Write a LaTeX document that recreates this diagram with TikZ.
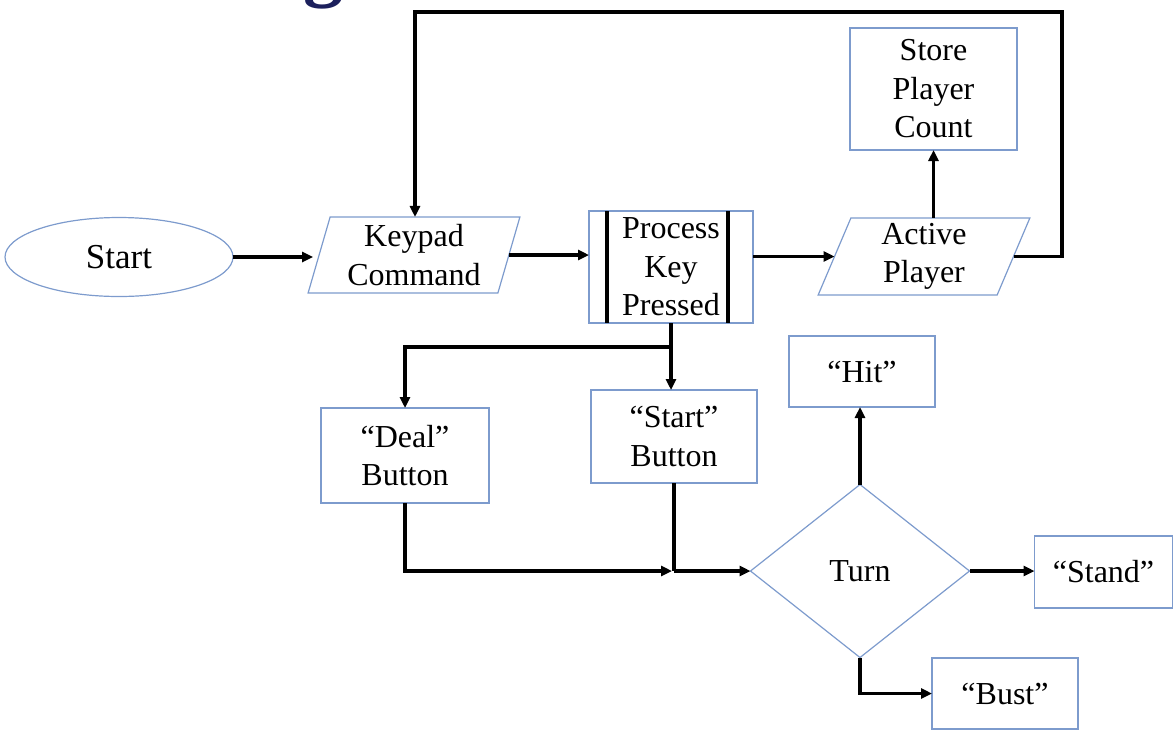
\documentclass[tikz,border=0pt]{standalone}
\usepackage{fontspec}
\setmainfont{Liberation Serif}
\usetikzlibrary{arrows.meta,shapes.geometric}
\definecolor{boxblue}{RGB}{125,155,205}
\definecolor{titlenavy}{RGB}{28,32,92}
\begin{document}
\begin{tikzpicture}[x=1pt,y=-1pt,
  every node/.style={font=\fontsize{32}{38.5}\selectfont, align=center, inner sep=0pt, outer sep=0pt},
  box/.style={draw=boxblue, line width=1.2pt, rectangle},
  para/.style={draw=boxblue, line width=1.2pt, trapezium, trapezium left angle=74,
    trapezium right angle=106, trapezium stretches=true},
  conn/.style={line width=3.2pt, black},
  arr/.style={conn, -{Triangle[length=11pt,width=10pt]}},
]
\useasboundingbox (0,0) rectangle (1174,732);
\clip (0,0) rectangle (1174,732);

% fragment of the cut-off title
\node[font=\fontsize{80}{80}\selectfont\bfseries, text=titlenavy, anchor=base] (title) at (323,-9) {g};

% nodes
\node[draw=boxblue, line width=1.2pt, ellipse, minimum width=228pt, minimum height=79pt,
  font=\fontsize{35}{38}\selectfont] (start) at (119,257) {Start};
\node[para, minimum width=212pt, minimum height=76pt] (key) at (414,255) {Keypad\\Command};
\node[box, minimum width=164pt, minimum height=112pt] (proc) at (671,267) {Process\\Key\\Pressed};
\node[para, minimum width=212pt, minimum height=77pt] (act) at (924,256.5) {Active\\Player};
\node[box, minimum width=167pt, minimum height=122pt] (store) at (933.5,89) {Store\\Player\\Count};
\node[box, minimum width=168pt, minimum height=95pt] (deal) at (405,455.5) {``Deal''\\Button};
\node[box, minimum width=166pt, minimum height=93pt] (sbtn) at (674,436.5) {``Start''\\Button};
\node[draw=boxblue, line width=1.2pt, diamond, minimum width=219pt, minimum height=173pt] (turn) at (860,571) {Turn};
\node[box, minimum width=146pt, minimum height=71pt] (hit) at (862,371.5) {``Hit''};
\node[box, minimum width=138pt, minimum height=72pt] (stand) at (1103.5,572) {``Stand''};
\node[box, minimum width=146pt, minimum height=71pt] (bust) at (1005,693.5) {``Bust''};

% process bars
\draw[conn] ([xshift=18pt]proc.north west) -- ([xshift=18pt]proc.south west);
\draw[conn] ([xshift=-25pt]proc.north east) -- ([xshift=-25pt]proc.south east);

% helper coordinates
\coordinate (tl) at (415,12);
\coordinate (tr) at (1062,12);
\coordinate (j1) at (671,347);
\coordinate (j2) at (674,571);

% connectors
\draw[arr] (start.east) -- ([xshift=-6pt]start.east -| key.west);
\draw[arr] (key.east) -- (key.east -| proc.west);
\draw[arr] (act.west -| proc.east) -- (act.west);
\draw[arr] (store.south |- act.north) -- (store.south);
\draw[arr] (act.east) -- (act.east -| tr) -- (tr) -- (tl) -- (tl |- key.north);
\draw[conn] (proc.south) -- (j1);
\draw[arr] (j1) -- (j1 -| deal.north) -- (deal.north);
\draw[arr] (j1) -- (j1 |- sbtn.north);
\draw[arr] (deal.south) -- (deal.south |- j2) -- ([xshift=-2pt]j2);
\draw[conn] (sbtn.south) -- (j2);
\draw[arr] (j2) -- (turn.west);
\draw[arr] (turn.north) -- (turn.north |- hit.south);
\draw[arr] (turn.east) -- (turn.east -| stand.west);
\draw[arr] (turn.south) -- (turn.south |- bust.west) -- (bust.west);
\end{tikzpicture}
\end{document}
